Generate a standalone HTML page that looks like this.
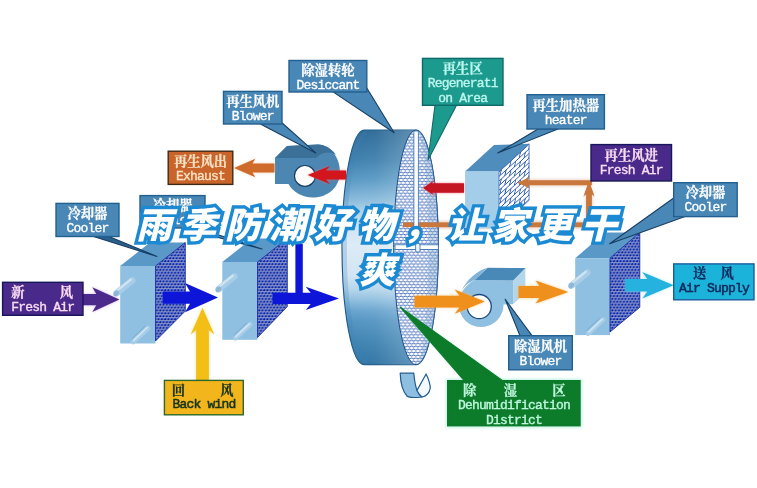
<!DOCTYPE html>
<html><head><meta charset="utf-8"><title>diagram</title>
<style>html,body{margin:0;padding:0;background:#fff;overflow:hidden}svg{display:block}</style>
</head><body>
<svg width="757" height="488" viewBox="0 0 757 488">
<defs>
<radialGradient id="ball" cx="0.35" cy="0.32" r="0.7"><stop offset="0" stop-color="#3a66e6"/><stop offset="0.4" stop-color="#0c28b4"/><stop offset="1" stop-color="#040c62"/></radialGradient>
<pattern id="dots" width="3.3" height="5.8" patternUnits="userSpaceOnUse">
<rect width="3.3" height="5.8" fill="#e4eeff"/>
<circle cx="0" cy="0" r="1.5" fill="url(#ball)"/><circle cx="3.3" cy="0" r="1.5" fill="url(#ball)"/>
<circle cx="1.65" cy="2.9" r="1.5" fill="url(#ball)"/>
<circle cx="0" cy="5.8" r="1.5" fill="url(#ball)"/><circle cx="3.3" cy="5.8" r="1.5" fill="url(#ball)"/>
</pattern>
<pattern id="wave" width="4.2" height="5.9" patternUnits="userSpaceOnUse">
<rect width="4.2" height="5.9" fill="#ffffff"/>
<path d="M-0.5,2.45 L0,2.1 L2.1,0.8 L4.2,2.1 L4.7,2.45" fill="none" stroke="#2a58b4" stroke-width="0.85" stroke-linejoin="round"/>
<path d="M-2.1,5.05 L0,3.75 L2.1,5.05 L4.2,3.75 L6.3,5.05" fill="none" stroke="#2a58b4" stroke-width="0.85" stroke-linejoin="round"/>
</pattern>
<pattern id="hatch" width="9.6" height="9.2" patternUnits="userSpaceOnUse" patternTransform="translate(499,171.4) skewY(-42.5)">
<rect width="9.6" height="9.2" fill="#ffffff"/>
<path d="M0,0.5 H9.6 M0,5.1 H9.6 M2.4,0.5 L0.9,5.1 M7.2,5.1 L5.7,9.7 M7.2,-4.1 L5.7,0.5" fill="none" stroke="#2a58aa" stroke-width="1.05"/>
</pattern>
<linearGradient id="wheelg" x1="0" y1="0" x2="0" y2="1">
<stop offset="0" stop-color="#2a6896"/>
<stop offset="0.128" stop-color="#3f80ae"/>
<stop offset="0.213" stop-color="#5a9ac5"/>
<stop offset="0.298" stop-color="#8abbdc"/>
<stop offset="0.34" stop-color="#a8cee6"/>
<stop offset="0.405" stop-color="#cfe3f2"/>
<stop offset="0.49" stop-color="#dcebf6"/>
<stop offset="0.62" stop-color="#d2e5f3"/>
<stop offset="0.68" stop-color="#b5d5ea"/>
<stop offset="0.724" stop-color="#8fbfdf"/>
<stop offset="0.767" stop-color="#6aa5cf"/>
<stop offset="0.81" stop-color="#5595c3"/>
<stop offset="0.895" stop-color="#3f84b3"/>
<stop offset="1" stop-color="#2c71a2"/>
</linearGradient>
<linearGradient id="wheelh" x1="0" y1="0" x2="1" y2="0">
<stop offset="0" stop-color="#ffffff" stop-opacity="0"/>
<stop offset="0.35" stop-color="#ffffff" stop-opacity="0.05"/>
<stop offset="1" stop-color="#ffffff" stop-opacity="0.38"/>
</linearGradient>
<filter id="soft" x="-5%" y="-5%" width="110%" height="110%"><feGaussianBlur stdDeviation="0.45"/></filter>
<filter id="glow" x="-30%" y="-30%" width="160%" height="160%"><feGaussianBlur stdDeviation="1.6"/></filter>
</defs>
<rect width="757" height="488" fill="#ffffff"/>
<g filter="url(#soft)">
<g opacity="0.35" filter="url(#glow)"><rect x="403" y="221" width="190" height="7.5" fill="#c9773d"/><rect x="585.6" y="190" width="7" height="38" fill="#c9773d"/><rect x="520" y="179.5" width="72" height="6.5" fill="#c9773d"/></g>
<path d="M364.3,130.1 A22.3,117.3 0 0 0 364.3,364.7 L416.0,364.7 A22.3,117.3 0 0 0 416.0,130.1 Z" fill="url(#wheelg)" stroke="#1f5c8c" stroke-width="1.2"/>
<path d="M364.3,130.1 A22.3,117.3 0 0 0 364.3,364.7 L416.0,364.7 A22.3,117.3 0 0 0 416.0,130.1 Z" fill="url(#wheelh)"/>
<path d="M364.3,133.1 A22.3,114.3 0 0 0 364.3,361.7" fill="none" stroke="#3f84bb" stroke-width="4" opacity="0.25" transform="translate(2.8,0)"/>
<ellipse cx="416.0" cy="247.4" rx="22.3" ry="117.3" fill="url(#wave)" stroke="#1f4f8c" stroke-width="1"/>
<path d="M416.0,130.1 A22.3,117.3 0 0 1 416.0,364.7 A12.3,117.3 0 0 0 416.0,130.1 Z" fill="#7fa6cc" opacity="0.35"/>
<rect x="403" y="222.4" width="189.6" height="4.8" fill="#c9773d"/>
<rect x="413.9" y="131" width="4.4" height="116" fill="#ffffff" stroke="#2f6fb0" stroke-width="0.8"/>
<rect x="395" y="244.8" width="43.3" height="4.6" fill="#ffffff" stroke="#2f6fb0" stroke-width="0.8"/>
<rect x="415.6" y="243.5" width="4.4" height="8.5" rx="1.5" fill="#eaf2fb" stroke="#2f6fb0" stroke-width="0.8"/>
<path d="M400.2,373.2 L413.8,373.2 C414.5,381 415.5,386 417,390.4 C418.5,393.5 420,395.5 422,397 C415,397.8 409,397.8 407,396 C402.5,391 400.5,383 400.2,373.2 Z" fill="#8fbfe0" stroke="#1f5c90" stroke-width="1.2" stroke-linejoin="round"/>
<path d="M417,390.4 L426.1,374 C428.5,379 430.5,384 430.2,388.5 C429.5,393 426,396.5 422,397 C420,395.5 418.5,393.5 417,390.4 Z" fill="#f4f9fd" stroke="#1f5c90" stroke-width="1.2" stroke-linejoin="round"/>
<polygon points="120.2,266.0 155.5,266.0 185.3,242.5 150.0,242.5" fill="#5a98c8"/>
<rect x="120.2" y="266.0" width="35.3" height="77.5" fill="#8fc0e2"/>
<line x1="116.7" y1="293.0" x2="132.2" y2="280.5" stroke="#a9cde7" stroke-width="6.6" stroke-linecap="round"/>
<line x1="116.4" y1="291.2" x2="130.7" y2="279.6" stroke="#d3e8f5" stroke-width="2.2" stroke-linecap="round" opacity="0.9"/>
<ellipse cx="116.2" cy="293.4" rx="2.3" ry="3.3" fill="#8fb6d6" transform="rotate(38 116.2 293.4)"/>
<line x1="133.2" y1="342.0" x2="148.2" y2="328.0" stroke="#a9cde7" stroke-width="4.6" stroke-linecap="round"/>
<line x1="133.7" y1="340.3" x2="147.2" y2="327.5" stroke="#d3e8f5" stroke-width="1.6" stroke-linecap="round" opacity="0.9"/>
<line x1="131.7" y1="339.0" x2="144.7" y2="326.5" stroke="#6fa3cc" stroke-width="0.9" opacity="0.8"/>
<polygon points="155.5,266.0 185.3,242.5 185.3,311.0 155.5,341.0" fill="url(#dots)" stroke="#0c1f96" stroke-width="0.8"/>
<polygon points="222.3,262.0 257.5,262.0 287.3,238.5 252.1,238.5" fill="#5a98c8"/>
<rect x="222.3" y="262.0" width="35.2" height="77.8" fill="#8fc0e2"/>
<line x1="218.8" y1="289.0" x2="234.3" y2="276.5" stroke="#a9cde7" stroke-width="6.6" stroke-linecap="round"/>
<line x1="218.5" y1="287.2" x2="232.8" y2="275.6" stroke="#d3e8f5" stroke-width="2.2" stroke-linecap="round" opacity="0.9"/>
<ellipse cx="218.3" cy="289.4" rx="2.3" ry="3.3" fill="#8fb6d6" transform="rotate(38 218.3 289.4)"/>
<line x1="235.3" y1="338.3" x2="250.3" y2="324.3" stroke="#a9cde7" stroke-width="4.6" stroke-linecap="round"/>
<line x1="235.8" y1="336.6" x2="249.3" y2="323.8" stroke="#d3e8f5" stroke-width="1.6" stroke-linecap="round" opacity="0.9"/>
<line x1="233.8" y1="335.3" x2="246.8" y2="322.8" stroke="#6fa3cc" stroke-width="0.9" opacity="0.8"/>
<polygon points="257.5,262.0 287.3,238.5 287.3,306.6 257.5,337.5" fill="url(#dots)" stroke="#0c1f96" stroke-width="0.8"/>
<polygon points="575.2,258.2 610.0,258.2 639.8,232.4 605.0,232.4" fill="#5a98c8"/>
<rect x="575.2" y="258.2" width="34.8" height="76.9" fill="#8fc0e2"/>
<line x1="571.7" y1="285.2" x2="587.2" y2="272.7" stroke="#a9cde7" stroke-width="6.6" stroke-linecap="round"/>
<line x1="571.4" y1="283.4" x2="585.7" y2="271.8" stroke="#d3e8f5" stroke-width="2.2" stroke-linecap="round" opacity="0.9"/>
<ellipse cx="571.2" cy="285.6" rx="2.3" ry="3.3" fill="#8fb6d6" transform="rotate(38 571.2 285.6)"/>
<line x1="588.2" y1="333.6" x2="603.2" y2="319.6" stroke="#a9cde7" stroke-width="4.6" stroke-linecap="round"/>
<line x1="588.7" y1="331.9" x2="602.2" y2="319.1" stroke="#d3e8f5" stroke-width="1.6" stroke-linecap="round" opacity="0.9"/>
<line x1="586.7" y1="330.6" x2="599.7" y2="318.1" stroke="#6fa3cc" stroke-width="0.9" opacity="0.8"/>
<polygon points="610.0,258.2 639.8,232.4 639.8,307.3 610.0,332.0" fill="url(#dots)" stroke="#0c1f96" stroke-width="0.8"/>
<polygon points="465.1,171.4 499.0,171.4 529.1,143.8 494.0,145.0" fill="#4f8dbc"/>
<rect x="465.1" y="171.4" width="33.9" height="57" fill="#a3cde9"/>
<polygon points="499.0,171.4 529.1,143.8 529.1,200.3 499.0,228.4" fill="url(#hatch)" stroke="#2a5fae" stroke-width="0.7"/>
<path d="M275,158 L287,146 L318,144.5 C331,145 340,158 340,172 C340,187 328,197.5 313,197.5 C302,197.5 293,192 288.5,184 L275,184 Z" fill="#4b87b2"/>
<path d="M275,158 L287,146 L318,144.5 C326,145 332,149 336,155 C330,151 322,152 316,158 Z" fill="#3b7099"/>
<circle cx="304.9" cy="175.9" r="10.4" fill="#ffffff" stroke="#1b3f66" stroke-width="1.2"/>
<polygon points="513.1,280.4 525.4,268.1 525.4,292.7 513.1,304.2" fill="#b4d6ea"/>
<path d="M474.6,280 L513.1,280.4 L513.1,304.2 L503.5,304.5 C503.5,317 493.5,327 481,327 C468.5,327 458.8,317 458.8,304.5 C458.8,294 465,285 474.6,280 Z" fill="#8fc0e2"/>
<polygon points="474.6,280.0 487.7,267.8 525.4,268.1 513.1,280.4" fill="#4a89b8"/>
<path d="M474.6,280 L487.7,267.8 C478,270 466,280 461,292 C464,286 469,282 474.6,280 Z" fill="#7fb3d8"/>
<circle cx="479.2" cy="306.6" r="12.1" fill="#ffffff" stroke="#1b4a80" stroke-width="1.3"/>
<g opacity="0.6" filter="url(#glow)"><polygon points="83.0,293.9 96.3,293.9 92.3,287.3 119.4,299.6 92.3,311.9 96.3,305.3 83.0,305.3" fill="#b08ad8" /></g>
<polygon points="83.0,293.9 96.3,293.9 92.3,287.3 119.4,299.6 92.3,311.9 96.3,305.3 83.0,305.3" fill="#4c2a8c" />
<polygon points="162.7,291.5 190.0,291.5 185.0,282.9 218.0,297.6 185.0,312.3 190.0,303.7 162.7,303.7" fill="#0a16d8" />
<rect x="295.4" y="244" width="7.4" height="52" fill="#0a16d8"/>
<polygon points="272.5,292.8 310.7,292.8 305.7,286.8 339.0,298.4 305.7,310.0 310.7,304.0 272.5,304.0" fill="#0a16d8" />
<g opacity="0.8" filter="url(#glow)"><polygon points="196.1,381.0 196.1,330.0 190.7,334.5 202.5,307.8 214.3,334.5 208.9,330.0 208.9,381.0" fill="#f7dc6a" /></g>
<polygon points="196.1,381.0 196.1,330.0 190.7,334.5 202.5,307.8 214.3,334.5 208.9,330.0 208.9,381.0" fill="#f3bf18" />
<g opacity="0.5" filter="url(#glow)"><polygon points="274.5,163.5 252.4,163.5 255.4,158.8 234.0,168.0 255.4,177.2 252.4,172.5 274.5,172.5" fill="#e8a070" /></g>
<polygon points="274.5,163.5 252.4,163.5 255.4,158.8 234.0,168.0 255.4,177.2 252.4,172.5 274.5,172.5" fill="#cf6a2a" />
<g opacity="0.7" filter="url(#glow)"><polygon points="346.0,170.4 326.0,170.4 330.0,165.9 307.6,174.9 330.0,183.9 326.0,179.4 346.0,179.4" fill="#f06070" /></g>
<polygon points="346.0,170.4 326.0,170.4 330.0,165.9 307.6,174.9 330.0,183.9 326.0,179.4 346.0,179.4" fill="#d2141e" />
<g opacity="0.7" filter="url(#glow)"><polygon points="464.0,183.3 432.0,183.3 434.5,180.2 423.0,188.0 434.5,195.8 432.0,192.7 464.0,192.7" fill="#f06070" /></g>
<polygon points="464.0,183.3 432.0,183.3 434.5,180.2 423.0,188.0 434.5,195.8 432.0,192.7 464.0,192.7" fill="#c41220" />
<polygon points="591.9,180.3 528.0,180.3 530.0,177.1 517.2,182.8 530.0,188.5 528.0,185.3 591.9,185.3" fill="#c9773d" />
<polygon points="586.1,226.0 586.1,194.5 583.4,196.5 589.0,180.6 594.6,196.5 591.9,194.5 591.9,226.0" fill="#c9773d" />
<g opacity="0.8" filter="url(#glow)"><polygon points="414.5,295.8 459.6,295.8 454.6,289.4 484.8,301.6 454.6,313.8 459.6,307.4 414.5,307.4" fill="#f7b860" /></g>
<polygon points="414.5,295.8 459.6,295.8 454.6,289.4 484.8,301.6 454.6,313.8 459.6,307.4 414.5,307.4" fill="#f0901c" />
<g opacity="0.8" filter="url(#glow)"><polygon points="518.5,286.0 539.5,286.0 535.5,280.5 568.3,292.0 535.5,303.5 539.5,298.0 518.5,298.0" fill="#f7b860" /></g>
<polygon points="518.5,286.0 539.5,286.0 535.5,280.5 568.3,292.0 535.5,303.5 539.5,298.0 518.5,298.0" fill="#f0901c" />
<g opacity="0.7" filter="url(#glow)"><polygon points="625.2,279.1 647.3,279.1 642.3,272.1 673.7,285.3 642.3,298.5 647.3,291.5 625.2,291.5" fill="#8adcf0" /></g>
<polygon points="625.2,279.1 647.3,279.1 642.3,272.1 673.7,285.3 642.3,298.5 647.3,291.5 625.2,291.5" fill="#27b2df" />
<polygon points="333.0,91.9 366.8,88.0 394.2,132.8" fill="#4a88b6" stroke="#173e63" stroke-width="1.1" stroke-linejoin="round"/>
<rect x="289.0" y="60.5" width="77.8" height="31.5" fill="#4a88b6" stroke="#23608f" stroke-width="1.4"/>
<text x="301.3" y="74.7" font-family="'Liberation Serif', 'Noto Serif CJK SC', serif" font-size="13.3" font-weight="bold" fill="#ffffff" stroke="#ffffff" stroke-width="0.25">除湿转轮</text>
<text x="296.4" y="88.7" font-family="Liberation Mono, monospace" font-size="13.00" letter-spacing="-0.80" fill="#ffffff" stroke="#ffffff" stroke-width="0.35" font-weight="normal" xml:space="preserve">Desiccant</text>
<polygon points="260.4,124.0 280.5,121.5 315.7,152.9" fill="#4a88b6" stroke="#173e63" stroke-width="1.1" stroke-linejoin="round"/>
<rect x="223.5" y="91.4" width="58.5" height="32.6" fill="#4a88b6" stroke="#23608f" stroke-width="1.4"/>
<text x="226.2" y="105.6" font-family="'Liberation Serif', 'Noto Serif CJK SC', serif" font-size="13.3" font-weight="bold" fill="#ffffff" stroke="#ffffff" stroke-width="0.25">再生风机</text>
<text x="231.8" y="119.6" font-family="Liberation Mono, monospace" font-size="13.00" letter-spacing="-0.80" fill="#ffffff" stroke="#ffffff" stroke-width="0.35" font-weight="normal" xml:space="preserve">Blower</text>
<rect x="168.2" y="151.2" width="64.6" height="33.2" fill="#c9652b" stroke="#3f2a12" stroke-width="1.4"/>
<text x="173.9" y="165.5" font-family="'Liberation Serif', 'Noto Serif CJK SC', serif" font-size="13.3" font-weight="bold" fill="#f8e2c6" stroke="#f8e2c6" stroke-width="0.25">再生风出</text>
<text x="176.0" y="180.4" font-family="Liberation Mono, monospace" font-size="13.00" letter-spacing="-0.80" fill="#f8e2c6" stroke="#f8e2c6" stroke-width="0.35" font-weight="normal" xml:space="preserve">Exhaust</text>
<polygon points="182.0,228.0 197.0,228.0 262.0,249.0" fill="#4a88b6" stroke="#173e63" stroke-width="1.1" stroke-linejoin="round"/>
<rect x="140.0" y="195.6" width="65.0" height="32.4" fill="#4a88b6" stroke="#23608f" stroke-width="1.4"/>
<text x="152.6" y="209.8" font-family="'Liberation Serif', 'Noto Serif CJK SC', serif" font-size="13.3" font-weight="bold" fill="#ffffff" stroke="#ffffff" stroke-width="0.25">冷却器</text>
<text x="151.5" y="223.8" font-family="Liberation Mono, monospace" font-size="13.00" letter-spacing="-0.80" fill="#ffffff" stroke="#ffffff" stroke-width="0.35" font-weight="normal" xml:space="preserve">Cooler</text>
<polygon points="93.5,236.5 109.0,236.5 157.0,256.4" fill="#2a5f8a" stroke="#173e63" stroke-width="1.1" stroke-linejoin="round"/>
<rect x="56.0" y="203.4" width="63.0" height="33.1" fill="#4a88b6" stroke="#23608f" stroke-width="1.4"/>
<text x="67.5" y="217.6" font-family="'Liberation Serif', 'Noto Serif CJK SC', serif" font-size="13.3" font-weight="bold" fill="#ffffff" stroke="#ffffff" stroke-width="0.25">冷却器</text>
<text x="66.5" y="231.6" font-family="Liberation Mono, monospace" font-size="13.00" letter-spacing="-0.80" fill="#ffffff" stroke="#ffffff" stroke-width="0.35" font-weight="normal" xml:space="preserve">Cooler</text>
<rect x="2.6" y="282.3" width="80.4" height="33.0" fill="#4a2c8a" stroke="#17175a" stroke-width="1.4"/>
<text x="11.3" y="297.0" font-family="'Liberation Serif', 'Noto Serif CJK SC', serif" font-size="13.3" font-weight="bold" fill="#fbdcf2" stroke="#fbdcf2" stroke-width="0.25">新</text>
<text x="59.8" y="297.0" font-family="'Liberation Serif', 'Noto Serif CJK SC', serif" font-size="13.3" font-weight="bold" fill="#fbdcf2" stroke="#fbdcf2" stroke-width="0.25">风</text>
<text x="11.3" y="310.7" font-family="Liberation Mono, monospace" font-size="13.00" letter-spacing="-0.80" fill="#fbdcf2" stroke="#fbdcf2" stroke-width="0.35" font-weight="normal" xml:space="preserve">Fresh Air</text>
<rect x="164.4" y="380.4" width="78.9" height="34.4" fill="#f3b51f" stroke="#2b6a2b" stroke-width="1.4"/>
<text x="171.8" y="394.6" font-family="'Liberation Serif', 'Noto Serif CJK SC', serif" font-size="13.3" font-weight="bold" fill="#17351a" stroke="#17351a" stroke-width="0.25">回</text>
<text x="220.3" y="394.6" font-family="'Liberation Serif', 'Noto Serif CJK SC', serif" font-size="13.3" font-weight="bold" fill="#17351a" stroke="#17351a" stroke-width="0.25">风</text>
<text x="172.4" y="408.3" font-family="Liberation Mono, monospace" font-size="13.00" letter-spacing="-0.80" fill="#17351a" stroke="#17351a" stroke-width="0.55" font-weight="normal" xml:space="preserve">Back wind</text>
<polygon points="435.0,105.3 456.5,105.3 428.0,160.0" fill="#1f9a8d" stroke="#0f6a6c" stroke-width="1.1" stroke-linejoin="round"/>
<rect x="422.5" y="58.4" width="80.5" height="46.9" fill="#1f9a8d" stroke="#0f6a6c" stroke-width="1.4"/>
<text x="442.8" y="73.0" font-family="'Liberation Serif', 'Noto Serif CJK SC', serif" font-size="13.3" font-weight="bold" fill="#baf7f0" stroke="#baf7f0" stroke-width="0.25">再生区</text>
<text x="427.8" y="87.0" font-family="Liberation Mono, monospace" font-size="13.00" letter-spacing="-0.80" fill="#baf7f0" stroke="#baf7f0" stroke-width="0.35" font-weight="normal" xml:space="preserve">Regenerati</text>
<text x="438.2" y="101.6" font-family="Liberation Mono, monospace" font-size="13.00" letter-spacing="-0.80" fill="#baf7f0" stroke="#baf7f0" stroke-width="0.35" font-weight="normal" xml:space="preserve">on Area</text>
<polygon points="538.0,129.0 558.0,129.0 497.7,153.0" fill="#4a88b6" stroke="#173e63" stroke-width="1.1" stroke-linejoin="round"/>
<rect x="527.0" y="94.7" width="77.4" height="34.3" fill="#4a88b6" stroke="#23608f" stroke-width="1.4"/>
<text x="532.5" y="109.5" font-family="'Liberation Serif', 'Noto Serif CJK SC', serif" font-size="13.3" font-weight="bold" fill="#ffffff" stroke="#ffffff" stroke-width="0.25">再生加热器</text>
<text x="544.7" y="123.9" font-family="Liberation Mono, monospace" font-size="13.00" letter-spacing="-0.80" fill="#ffffff" stroke="#ffffff" stroke-width="0.35" font-weight="normal" xml:space="preserve">heater</text>
<rect x="591.0" y="144.6" width="80.5" height="36.4" fill="#4a2c8a" stroke="#17175a" stroke-width="1.4"/>
<text x="604.6" y="159.5" font-family="'Liberation Serif', 'Noto Serif CJK SC', serif" font-size="13.3" font-weight="bold" fill="#fbdcf2" stroke="#fbdcf2" stroke-width="0.25">再生风进</text>
<text x="599.8" y="173.9" font-family="Liberation Mono, monospace" font-size="13.00" letter-spacing="-0.80" fill="#fbdcf2" stroke="#fbdcf2" stroke-width="0.35" font-weight="normal" xml:space="preserve">Fresh Air</text>
<polygon points="673.7,198.0 685.0,216.6 609.7,243.8" fill="#4a88b6" stroke="#173e63" stroke-width="1.1" stroke-linejoin="round"/>
<rect x="673.7" y="182.7" width="63.5" height="33.9" fill="#4a88b6" stroke="#23608f" stroke-width="1.4"/>
<text x="685.5" y="197.0" font-family="'Liberation Serif', 'Noto Serif CJK SC', serif" font-size="13.3" font-weight="bold" fill="#ffffff" stroke="#ffffff" stroke-width="0.25">冷却器</text>
<text x="684.5" y="211.4" font-family="Liberation Mono, monospace" font-size="13.00" letter-spacing="-0.80" fill="#ffffff" stroke="#ffffff" stroke-width="0.35" font-weight="normal" xml:space="preserve">Cooler</text>
<rect x="673.7" y="263.9" width="80.3" height="35.9" fill="#1fb3db" stroke="#1b5c9c" stroke-width="1.4"/>
<text x="693.1" y="277.8" font-family="'Liberation Serif', 'Noto Serif CJK SC', serif" font-size="13.3" font-weight="bold" fill="#0b2a5c" stroke="#0b2a5c" stroke-width="0.25">送</text>
<text x="720.6" y="277.8" font-family="'Liberation Serif', 'Noto Serif CJK SC', serif" font-size="13.3" font-weight="bold" fill="#0b2a5c" stroke="#0b2a5c" stroke-width="0.25">风</text>
<text x="678.9" y="291.5" font-family="Liberation Mono, monospace" font-size="13.00" letter-spacing="-0.80" fill="#0b2a5c" stroke="#0b2a5c" stroke-width="0.55" font-weight="normal" xml:space="preserve">Air Supply</text>
<polygon points="520.0,335.7 532.0,335.7 505.2,299.3" fill="#4a88b6" stroke="#173e63" stroke-width="1.1" stroke-linejoin="round"/>
<rect x="508.7" y="335.7" width="63.6" height="34.1" fill="#4a88b6" stroke="#23608f" stroke-width="1.4"/>
<text x="513.9" y="350.5" font-family="'Liberation Serif', 'Noto Serif CJK SC', serif" font-size="13.3" font-weight="bold" fill="#ffffff" stroke="#ffffff" stroke-width="0.25">除湿风机</text>
<text x="519.5" y="364.9" font-family="Liberation Mono, monospace" font-size="13.00" letter-spacing="-0.80" fill="#ffffff" stroke="#ffffff" stroke-width="0.35" font-weight="normal" xml:space="preserve">Blower</text>
<polygon points="464.5,381.0 503.0,381.0 400.0,307.0" fill="#8ee8d0" opacity="0.7" filter="url(#glow)"/>
<rect x="446" y="379" width="136" height="48.5" fill="#8ee8d0" opacity="0.6" filter="url(#glow)"/>
<polygon points="464.5,381.0 503.0,381.0 400.0,307.0" fill="#0f7b2c" stroke="#0f7b2c" stroke-width="1.1" stroke-linejoin="round"/>
<rect x="447.7" y="380.7" width="132.3" height="45.0" fill="#0f7b2c" stroke="#0f7b2c" stroke-width="1.4"/>
<text x="463.1" y="395.3" font-family="'Liberation Serif', 'Noto Serif CJK SC', serif" font-size="13.3" font-weight="bold" fill="#bdf7dc" stroke="#bdf7dc" stroke-width="0.25">除</text>
<text x="503.7" y="395.3" font-family="'Liberation Serif', 'Noto Serif CJK SC', serif" font-size="13.3" font-weight="bold" fill="#bdf7dc" stroke="#bdf7dc" stroke-width="0.25">湿</text>
<text x="552.2" y="395.3" font-family="'Liberation Serif', 'Noto Serif CJK SC', serif" font-size="13.3" font-weight="bold" fill="#bdf7dc" stroke="#bdf7dc" stroke-width="0.25">区</text>
<text x="457.9" y="409.1" font-family="Liberation Mono, monospace" font-size="13.00" letter-spacing="-0.80" fill="#bdf7dc" stroke="#bdf7dc" stroke-width="0.35" font-weight="normal" xml:space="preserve">Dehumidification</text>
<text x="485.9" y="423.5" font-family="Liberation Mono, monospace" font-size="13.00" letter-spacing="-0.80" fill="#bdf7dc" stroke="#bdf7dc" stroke-width="0.35" font-weight="normal" xml:space="preserve">District</text>
</g>
<text x="136" y="238" font-family="'Liberation Sans', 'Noto Sans CJK SC', sans-serif" font-size="36" font-weight="900" font-style="italic" letter-spacing="8.5" fill="#1b8ad2" stroke="#1b8ad2" stroke-width="6.8" stroke-linejoin="miter" stroke-miterlimit="2.2">雨季防潮好物，让家更干</text>
<text x="359" y="283" font-family="'Liberation Sans', 'Noto Sans CJK SC', sans-serif" font-size="36" font-weight="900" font-style="italic" fill="#1b8ad2" stroke="#1b8ad2" stroke-width="6.8" stroke-linejoin="miter" stroke-miterlimit="2.2">爽</text>
<text x="136" y="238" font-family="'Liberation Sans', 'Noto Sans CJK SC', sans-serif" font-size="36" font-weight="900" font-style="italic" letter-spacing="8.5" fill="#ffffff">雨季防潮好物，让家更干</text>
<text x="359" y="283" font-family="'Liberation Sans', 'Noto Sans CJK SC', sans-serif" font-size="36" font-weight="900" font-style="italic" fill="#ffffff">爽</text>
</svg>
</body></html>
